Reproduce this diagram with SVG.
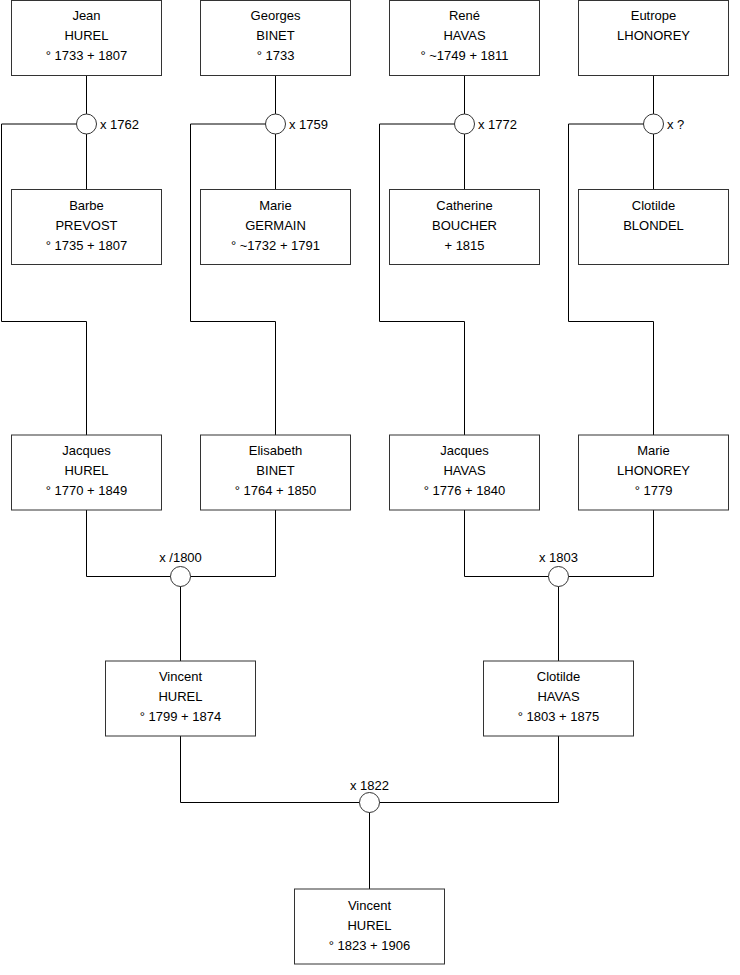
<svg xmlns="http://www.w3.org/2000/svg" width="740" height="975" viewBox="0 0 740 975">
<style>
.box{fill:#fff;stroke:#333;stroke-width:1}
.ln{fill:none;stroke:#000;stroke-width:1}
.c{fill:#fff;stroke:#333;stroke-width:1}
text{font-family:"Liberation Sans",Arial,sans-serif;font-size:13px;fill:#000}
.m{text-anchor:middle}
</style>
<rect width="740" height="975" fill="#fff"/>
<g id="connectors">
<path class="ln" d="M86.5 75V124M86.5 124V190M86.5 124H1.5V321.5H86.5V435"/>
<path class="ln" d="M275.5 75V124M275.5 124V190M275.5 124H190.5V321.5H275.5V435"/>
<path class="ln" d="M464.5 75V124M464.5 124V190M464.5 124H379.5V321.5H464.5V435"/>
<path class="ln" d="M653.5 75V124M653.5 124V190M653.5 124H568.5V321.5H653.5V435"/>
<path class="ln" d="M86.5 510V576.5H275.5V510M180.5 576.5V661"/>
<path class="ln" d="M464.5 510V576.5H653.5V510M558.5 576.5V661"/>
<path class="ln" d="M180.5 736V802.5H558.5V736M369.5 802.5V889"/>
</g>
<g id="m1"><circle class="c" cx="86.5" cy="124" r="10"/><text x="100" y="128.5">x 1762</text></g>
<g id="m2"><circle class="c" cx="275.5" cy="124" r="10"/><text x="289" y="128.5">x 1759</text></g>
<g id="m3"><circle class="c" cx="464.5" cy="124" r="10"/><text x="478" y="128.5">x 1772</text></g>
<g id="m4"><circle class="c" cx="653.5" cy="124" r="10"/><text x="667" y="128.5">x ?</text></g>
<g id="m5"><circle class="c" cx="180.5" cy="576.5" r="10"/><text class="m" x="180.5" y="562">x /1800</text></g>
<g id="m6"><circle class="c" cx="558.5" cy="576.5" r="10"/><text class="m" x="558.5" y="562">x 1803</text></g>
<g id="m7"><circle class="c" cx="369.5" cy="802.5" r="10"/><text class="m" x="369.5" y="790">x 1822</text></g>
<g id="jean_hurel"><rect class="box" x="11.5" y="0.5" width="150" height="75"/><text class="m" x="86.5" y="20">Jean</text><text class="m" x="86.5" y="40">HUREL</text><text class="m" x="86.5" y="60">° 1733 + 1807</text></g>
<g id="georges_binet"><rect class="box" x="200.5" y="0.5" width="150" height="75"/><text class="m" x="275.5" y="20">Georges</text><text class="m" x="275.5" y="40">BINET</text><text class="m" x="275.5" y="60">° 1733</text></g>
<g id="rene_havas"><rect class="box" x="389.5" y="0.5" width="150" height="75"/><text class="m" x="464.5" y="20">René</text><text class="m" x="464.5" y="40">HAVAS</text><text class="m" x="464.5" y="60">° ~1749 + 1811</text></g>
<g id="eutrope_lhonorey"><rect class="box" x="578.5" y="0.5" width="150" height="75"/><text class="m" x="653.5" y="20">Eutrope</text><text class="m" x="653.5" y="40">LHONOREY</text></g>
<g id="barbe_prevost"><rect class="box" x="11.5" y="189.5" width="150" height="75"/><text class="m" x="86.5" y="210">Barbe</text><text class="m" x="86.5" y="230">PREVOST</text><text class="m" x="86.5" y="250">° 1735 + 1807</text></g>
<g id="marie_germain"><rect class="box" x="200.5" y="189.5" width="150" height="75"/><text class="m" x="275.5" y="210">Marie</text><text class="m" x="275.5" y="230">GERMAIN</text><text class="m" x="275.5" y="250">° ~1732 + 1791</text></g>
<g id="catherine_boucher"><rect class="box" x="389.5" y="189.5" width="150" height="75"/><text class="m" x="464.5" y="210">Catherine</text><text class="m" x="464.5" y="230">BOUCHER</text><text class="m" x="464.5" y="250">+ 1815</text></g>
<g id="clotilde_blondel"><rect class="box" x="578.5" y="189.5" width="150" height="75"/><text class="m" x="653.5" y="210">Clotilde</text><text class="m" x="653.5" y="230">BLONDEL</text></g>
<g id="jacques_hurel"><rect class="box" x="11.5" y="435" width="150" height="75"/><text class="m" x="86.5" y="455">Jacques</text><text class="m" x="86.5" y="475">HUREL</text><text class="m" x="86.5" y="495">° 1770 + 1849</text></g>
<g id="elisabeth_binet"><rect class="box" x="200.5" y="435" width="150" height="75"/><text class="m" x="275.5" y="455">Elisabeth</text><text class="m" x="275.5" y="475">BINET</text><text class="m" x="275.5" y="495">° 1764 + 1850</text></g>
<g id="jacques_havas"><rect class="box" x="389.5" y="435" width="150" height="75"/><text class="m" x="464.5" y="455">Jacques</text><text class="m" x="464.5" y="475">HAVAS</text><text class="m" x="464.5" y="495">° 1776 + 1840</text></g>
<g id="marie_lhonorey"><rect class="box" x="578.5" y="435" width="150" height="75"/><text class="m" x="653.5" y="455">Marie</text><text class="m" x="653.5" y="475">LHONOREY</text><text class="m" x="653.5" y="495">° 1779</text></g>
<g id="vincent_hurel_1799"><rect class="box" x="105.5" y="661" width="150" height="75"/><text class="m" x="180.5" y="681">Vincent</text><text class="m" x="180.5" y="701">HUREL</text><text class="m" x="180.5" y="721">° 1799 + 1874</text></g>
<g id="clotilde_havas"><rect class="box" x="483.5" y="661" width="150" height="75"/><text class="m" x="558.5" y="681">Clotilde</text><text class="m" x="558.5" y="701">HAVAS</text><text class="m" x="558.5" y="721">° 1803 + 1875</text></g>
<g id="vincent_hurel_1823"><rect class="box" x="294.5" y="889" width="150" height="75"/><text class="m" x="369.5" y="910">Vincent</text><text class="m" x="369.5" y="930">HUREL</text><text class="m" x="369.5" y="950">° 1823 + 1906</text></g>
</svg>
